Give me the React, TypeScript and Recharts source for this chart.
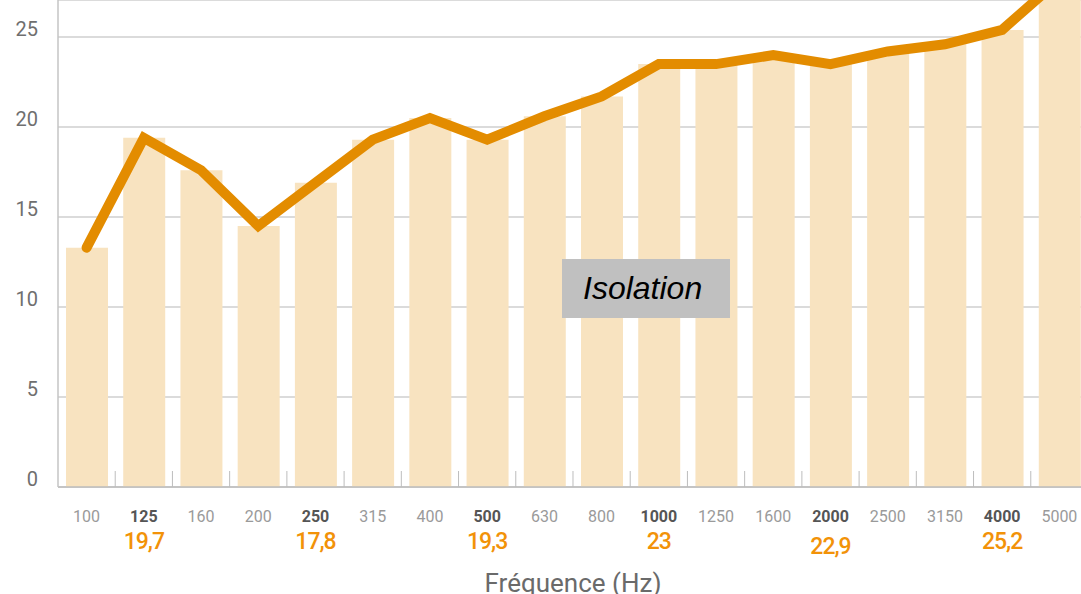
import React from "react";
import {
  ComposedChart,
  Bar,
  Line,
  XAxis,
  YAxis,
  CartesianGrid,
} from "recharts";

// Third-octave bands (Hz) and measured isolation (dB)
const frequences = [
  "100", "125", "160", "200", "250", "315", "400", "500", "630",
  "800", "1000", "1250", "1600", "2000", "2500", "3150", "4000", "5000",
];
const isolation = [
  13.3, 19.4, 17.6, 14.5, 16.9, 19.3, 20.5, 19.3, 20.6,
  21.7, 23.5, 23.5, 24.0, 23.5, 24.2, 24.6, 25.4, 28.2,
];
// octave values printed under the bold bands
const octaves = ["125", "250", "500", "1000", "2000", "4000"];
const octaveLabels = ["19,7", "17,8", "19,3", "23", "22,9", "25,2"];
const yTicks = [0, 5, 10, 15, 20, 25];

const data = frequences.map((f, i) => ({ f, isolation: isolation[i] }));

const FONT = "Roboto, 'Noto Sans', sans-serif";
const STEP = 57.2;

function YTick({ y, payload }: any) {
  return (
    <text
      x={38}
      y={y - 8}
      dy="0.355em"
      textAnchor="end"
      fontSize={20}
      fill="#6f6f6f"
      fontFamily={FONT}
    >
      {payload.value}
    </text>
  );
}

function XTick({ x, y, payload, index }: any) {
  const oi = octaves.indexOf(payload.value);
  const bold = oi >= 0;
  return (
    <g>
      {index < frequences.length - 1 && (
        <line x1={x + STEP / 2} x2={x + STEP / 2} y1={y - 16} y2={y} stroke="#bdbdbd" />
      )}
      <text
        x={x}
        y={y + 29}
        dy="0.355em"
        textAnchor="middle"
        fontSize={16}
        fontWeight={bold ? 700 : 400}
        fill={bold ? "#555" : "#9a9a9a"}
        fontFamily={FONT}
      >
        {payload.value}
      </text>
      {bold && (
        <text
          x={x}
          y={y + (payload.value === "2000" ? 59 : 54)}
          dy="0.355em"
          textAnchor="middle"
          fontSize={23}
          fontWeight={500}
          letterSpacing={-1}
          fill="#f29208"
          fontFamily={FONT}
        >
          {octaveLabels[oi]}
        </text>
      )}
    </g>
  );
}

export default function App() {
  return (
    <div
      style={{
        position: "fixed",
        left: 0,
        top: 0,
        width: 1081,
        height: 594,
        overflow: "hidden",
        background: "#fff",
      }}
    >
      <ComposedChart
        width={1081}
        height={594}
        data={data}
        margin={{ top: 0, right: -7, bottom: 0, left: 0 }}
      >
        <CartesianGrid vertical={false} stroke="#cfcfcf" strokeWidth={1.5} />
        <XAxis
          dataKey="f"
          height={107}
          interval={0}
          tickSize={0}
          tickMargin={0}
          tickLine={false}
          axisLine={{ stroke: "#bdbdbd", strokeWidth: 1.5 }}
          tick={<XTick />}
          label={{
            value: "Fréquence (Hz)",
            position: "insideBottom",
            offset: 2,
            fontSize: 26,
            fill: "#6a6a6a",
            fontFamily: FONT,
          }}
        />
        <YAxis
          width={58}
          domain={[0, 27.06]}
          ticks={yTicks}
          allowDataOverflow
          tickLine={false}
          axisLine={{ stroke: "#c4c4c4", strokeWidth: 1.5 }}
          tick={<YTick />}
        />
        <Bar dataKey="isolation" fill="#f8e3c0" barSize={42} isAnimationActive={false} />
        <Line
          type="linear"
          dataKey="isolation"
          stroke="#e38c00"
          strokeWidth={10}
          strokeLinecap="round"
          dot={false}
          activeDot={false}
          isAnimationActive={false}
        />
      </ComposedChart>
      <div
        style={{
          position: "absolute",
          left: 562,
          top: 259,
          width: 168,
          height: 59,
          background: "#c0c0c0",
          boxSizing: "border-box",
          paddingLeft: 21,
          display: "flex",
          alignItems: "center",
          fontFamily: "'Liberation Sans', Arial, sans-serif",
          fontStyle: "italic",
          fontSize: 32,
          color: "#000",
        }}
      >
        Isolation
      </div>
    </div>
  );
}
